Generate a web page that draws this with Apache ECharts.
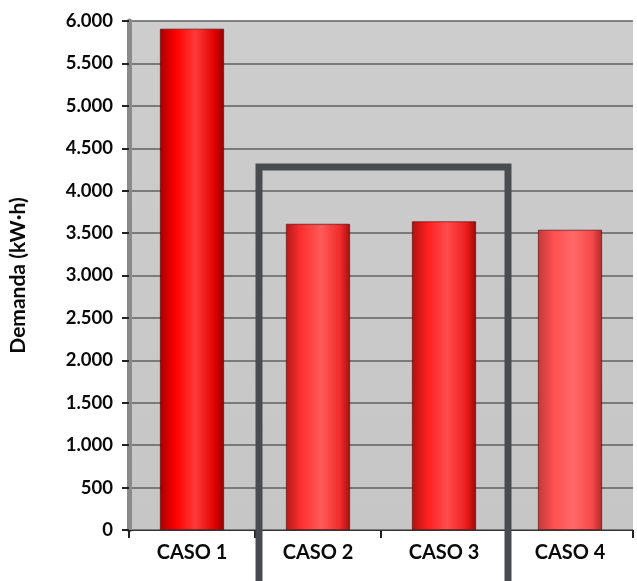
<!DOCTYPE html>
<html>
<head>
<meta charset="utf-8">
<script src="https://cdn.jsdelivr.net/npm/echarts@6/dist/echarts.min.js"></script>
<style>
  html, body { margin: 0; padding: 0; background: #ffffff; }
  #chart { width: 637px; height: 581px; }
</style>
</head>
<body>
<div id="chart"></div>
<script>
// Energy demand per case (kW·h)
const categories = ['CASO 1', 'CASO 2', 'CASO 3', 'CASO 4'];
const demand = [5910, 3610, 3640, 3540];
// Base tint of each cylinder
const barTints = [
  ['#a80000', '#ff0000', '#ff3a3a', '#e00000', '#900000'],
  ['#b81818', '#ff3030', '#ff5a5a', '#f02a2a', '#a01010'],
  ['#b01010', '#ff2020', '#ff4c4c', '#ee1c1c', '#9a0808'],
  ['#c03a3a', '#ff4f4f', '#ff6a6a', '#f54848', '#b02828']
];
const yTicks = { min: 0, max: 6000, interval: 500 };

function cylinder(t) {
  return new echarts.graphic.LinearGradient(0, 0, 1, 0, [
    { offset: 0, color: t[0] },
    { offset: 0.25, color: t[1] },
    { offset: 0.55, color: t[2] },
    { offset: 0.85, color: t[3] },
    { offset: 1, color: t[4] }
  ]);
}

const chart = echarts.init(document.getElementById('chart'));
const fontFamily = 'Lato, "Open Sans", sans-serif';

chart.setOption({
  animation: false,
  grid: {
    left: 128, right: 4, top: 21, bottom: 51,
    show: true,
    backgroundColor: new echarts.graphic.LinearGradient(0, 0, 0, 1, [
      { offset: 0, color: '#cdcdcd' },
      { offset: 1, color: '#c6c6c6' }
    ]),
    borderWidth: 0
  },
  xAxis: {
    type: 'category',
    data: categories,
    axisLine: { show: true, lineStyle: { color: '#333', width: 1 } },
    axisTick: { show: true, length: 8, lineStyle: { color: '#222', width: 2 } },
    axisLabel: {
      color: '#0a0a0a', fontFamily: fontFamily, fontWeight: 'bold',
      fontSize: 20, margin: 13
    }
  },
  yAxis: {
    type: 'value',
    min: yTicks.min, max: yTicks.max, interval: yTicks.interval,
    name: 'Demanda (kW·h)',
    nameLocation: 'middle',
    nameGap: 100,
    nameTextStyle: { color: '#0a0a0a', fontFamily: fontFamily, fontWeight: 'bold', fontSize: 21 },
    axisLine: { show: true, lineStyle: { color: '#8a8a8a', width: 5 } },
    axisTick: { show: true, length: 7, lineStyle: { color: '#222', width: 2 } },
    axisLabel: {
      color: '#0a0a0a', fontFamily: fontFamily, fontWeight: 'bold', fontSize: 18.5, margin: 16,
      formatter: v => v >= 1000 ? Math.floor(v / 1000) + '.' + String(v % 1000).padStart(3, '0') : String(v)
    },
    splitLine: { show: true, lineStyle: { color: '#606060', width: 1.5 } }
  },
  series: [{
    type: 'bar',
    data: demand.map((v, i) => ({
      value: v,
      itemStyle: { color: cylinder(barTints[i]) }
    })),
    barWidth: '51%',
    itemStyle: { borderColor: 'rgba(90,0,0,0.35)', borderWidth: 1 }
  }]
});

// Highlight frame around CASO 2 and CASO 3, placed from the axes
function drawFrame() {
  const c1 = chart.convertToPixel({ xAxisIndex: 0 }, 'CASO 1');
  const c2 = chart.convertToPixel({ xAxisIndex: 0 }, 'CASO 2');
  const c3 = chart.convertToPixel({ xAxisIndex: 0 }, 'CASO 3');
  const c4 = chart.convertToPixel({ xAxisIndex: 0 }, 'CASO 4');
  const left = (c1 + c2) / 2 + 4;
  const right = (c3 + c4) / 2 + 1;
  const top = chart.convertToPixel({ yAxisIndex: 0 }, 4280);
  const bottom = 600;
  chart.setOption({
    graphic: [{
      type: 'polyline',
      z: 100,
      shape: { points: [[left, bottom], [left, top], [right, top], [right, bottom]] },
      style: { stroke: '#484c50', lineWidth: 7, fill: null, lineJoin: 'miter' }
    }]
  });
}
drawFrame();
</script>
</body>
</html>
